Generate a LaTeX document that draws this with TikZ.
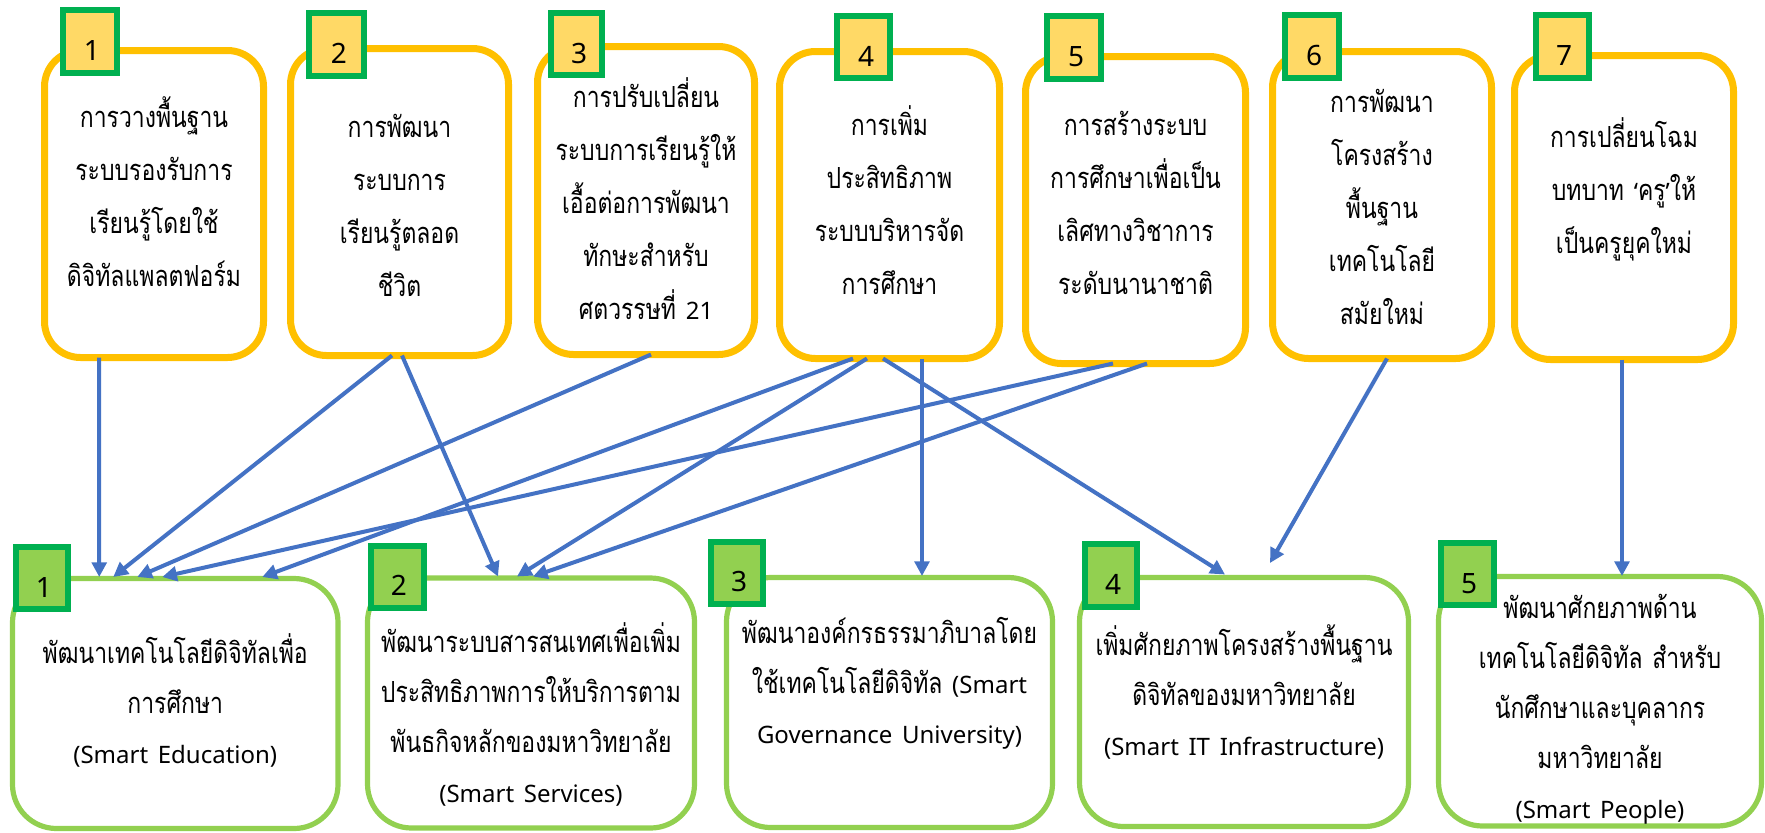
\documentclass[tikz,border=0pt]{standalone}
\usepackage{fontspec}
\setmainfont{Noto Sans}
\newfontfamily\thai[Script=Thai,FakeStretch=0.79]{Loma}
\newfontfamily\lat{Noto Sans}
\usetikzlibrary{arrows.meta,calc}
\definecolor{topc}{HTML}{FFC000}
\definecolor{botc}{HTML}{92D050}
\definecolor{badgeg}{HTML}{00B050}
\definecolor{badgey}{HTML}{FFD966}
\definecolor{arrc}{HTML}{4472C4}
\tikzset{
  topbox/.style={draw=topc, line width=5.25pt, rounded corners=27pt, fill=white, inner sep=0pt, outer sep=0pt},
  botbox/.style={draw=botc, line width=3.9pt, rounded corners=33pt, fill=white, inner sep=0pt, outer sep=0pt},
  tbadge/.style={draw=badgeg, line width=4.5pt, fill=badgey, inner sep=0pt, outer sep=0pt},
  bbadge/.style={draw=badgeg, line width=4.5pt, fill=botc, inner sep=0pt, outer sep=0pt},
  num/.style={anchor=base, inner sep=0pt, font=\lat\fontsize{21}{24}\selectfont},
  ttext/.style={anchor=base, inner sep=0pt, text width=330pt, align=center, font=\thai\fontsize{21.8}{39.75}\selectfont},
  btext/.style={anchor=base, inner sep=0pt, text width=330pt, align=center, font=\thai\fontsize{21.8}{37.5}\selectfont},
  arr/.style={draw=arrc, line width=3pt, -{Triangle[length=11pt,width=11pt]}},
}
\newcommand\la[1]{{\lat\fontsize{18}{20}\selectfont #1}}
\newcommand\mkbox[6]{\node[#1, minimum width={(#5-#3)*0.75pt}, minimum height={(#6-#4)*0.75pt}] (#2) at ({(#3+#5)/2},{(#4+#6)/2}) {};}
\begin{document}
\begin{tikzpicture}[x=0.75pt,y=-0.75pt]
\fill[white] (0,0) rectangle (1765,832);
\useasboundingbox (0,0) rectangle (1765,832);
% top boxes
\mkbox{topbox}{T1}{44.5}{50.5}{263.5}{357.5}
\mkbox{topbox}{T2}{290.5}{48.5}{508.5}{355.5}
\mkbox{topbox}{T3}{537.5}{46.5}{754.5}{354.5}
\mkbox{topbox}{T4}{779.5}{51.5}{999.5}{358.5}
\mkbox{topbox}{T5}{1025.5}{56.5}{1245.5}{363.5}
\mkbox{topbox}{T6}{1272.5}{51.5}{1491.5}{358.5}
\mkbox{topbox}{T7}{1514.5}{55.5}{1733.5}{359.5}
% bottom boxes
\mkbox{botbox}{B1}{12.5}{578.5}{338}{828.5}
\mkbox{botbox}{B2}{367.5}{578}{694.5}{828}
\mkbox{botbox}{B3}{726.5}{577.5}{1052.5}{827.5}
\mkbox{botbox}{B4}{1079.5}{577.5}{1408.5}{826.5}
\mkbox{botbox}{B5}{1438.5}{576.5}{1761.5}{826}
% top badges
\mkbox{tbadge}{Bd1}{63}{10}{117}{73}
\mkbox{tbadge}{Bd2}{309}{13}{364}{76}
\mkbox{tbadge}{Bd3}{551}{13}{602}{75}
\mkbox{tbadge}{Bd4}{837}{16}{890}{78}
\mkbox{tbadge}{Bd5}{1047}{16}{1101}{79}
\mkbox{tbadge}{Bd6}{1285}{15}{1339}{78}
\mkbox{tbadge}{Bd7}{1536}{15}{1589}{78}
% bottom badges
\mkbox{bbadge}{BB1}{16}{547}{68}{609}
\mkbox{bbadge}{BB2}{371}{546}{424}{608}
\mkbox{bbadge}{BB3}{711}{542}{763}{604}
\mkbox{bbadge}{BB4}{1085}{544}{1137}{607}
\mkbox{bbadge}{BB5}{1441}{543}{1494}{605}
% badge numbers
\node[num] (n1) at (92,60) {1};
\node[num] (n2) at (339,63) {2};
\node[num] (n3) at (579,63) {3};
\node[num] (n4) at (866,66) {4};
\node[num] (n5) at (1076,66) {5};
\node[num] (n6) at (1314,65) {6};
\node[num] (n7) at (1564,65) {7};
\node[num] (m1) at (44,597) {1};
\node[num] (m2) at (399,595) {2};
\node[num] (m3) at (739,591) {3};
\node[num] (m4) at (1113,594) {4};
\node[num] (m5) at (1469,593) {5};
% top texts
\node[ttext] (t1) at (154,127) {การวางพื้นฐาน\\ระบบรองรับการ\\เรียนรู้โดยใช้\\ดิจิทัลแพลตฟอร์ม};
\node[ttext] (t2) at (399.5,137) {การพัฒนา\\ระบบการ\\เรียนรู้ตลอด\\ชีวิต};
\node[ttext] (t3) at (646,107) {การปรับเปลี่ยน\\ระบบการเรียนรู้ให้\\เอื้อต่อการพัฒนา\\ทักษะสำหรับ\\ศตวรรษที่ \la{21}};
\node[ttext] (t4) at (889.5,135) {การเพิ่ม\\ประสิทธิภาพ\\ระบบบริหารจัด\\การศึกษา};
\node[ttext] (t5) at (1135.5,135) {การสร้างระบบ\\การศึกษาเพื่อเป็น\\เลิศทางวิชาการ\\ระดับนานาชาติ};
\node[ttext] (t6) at (1382,112) {การพัฒนา\\โครงสร้าง\\พื้นฐาน\\เทคโนโลยี\\สมัยใหม่};
\node[ttext] (t7) at (1624,147) {การเปลี่ยนโฉม\\บทบาท \la{‘}ครู\la{’}ให้\\เป็นครูยุคใหม่};
% bottom texts
\node[btext] (b1) at (175.25,663) {พัฒนาเทคโนโลยีดิจิทัลเพื่อ\\การศึกษา\\\la{(Smart Education)}};
\node[btext] (b2) at (531,652) {พัฒนาระบบสารสนเทศเพื่อเพิ่ม\\ประสิทธิภาพการให้บริการตาม\\พันธกิจหลักของมหาวิทยาลัย\\\la{(Smart Services)}};
\node[btext] (b3) at (889.5,643) {พัฒนาองค์กรธรรมาภิบาลโดย\\ใช้เทคโนโลยีดิจิทัล \la{(Smart}\\\la{Governance University)}};
\node[btext] (b4) at (1244,655) {เพิ่มศักยภาพโครงสร้างพื้นฐาน\\ดิจิทัลของมหาวิทยาลัย\\\la{(Smart IT Infrastructure)}};
\node[btext] (b5) at (1600,618) {พัฒนาศักยภาพด้าน\\เทคโนโลยีดิจิทัล สำหรับ\\นักศึกษาและบุคลากร\\มหาวิทยาลัย\\\la{(Smart People)}};
% arrows
\draw[arr] ($(T1.south)+(-55,0)$) -- ($(B1.north)+(-76,-1.5)$);
\draw[arr] ($(T2.south)+(-7.5,0)$) -- ($(B1.north)+(-62,-1.5)$);
\draw[arr] ($(T2.south)+(2.5,0)$) -- ($(B2.north)+(-33,-1.5)$);
\draw[arr] ($(T3.south)+(5,0)$) -- ($(B1.north)+(-38,-1.5)$);
\draw[arr] ($(T4.south)+(-36.5,0)$) -- ($(B1.north)+(87,-1.5)$);
\draw[arr] ($(T4.south)+(-22.5,0)$) -- ($(B2.north)+(-14,-1.5)$);
\draw[arr] ($(T4.south)+(-6.5,0)$) -- ($(B4.north)+(-19,-3)$);
\draw[arr] ($(T4.south)+(32.5,0)$) -- ($(B3.north)+(32.5,-1.5)$);
\draw[arr] ($(T5.south)+(-22.5,0)$) -- ($(B1.north)+(-13,-1.5)$);
\draw[arr] ($(T5.south)+(11.5,0)$) -- ($(B2.north)+(2,-1.5)$);
\draw[arr] ($(T6.south)+(5,0)$) -- ($(B4.north)+(26,-14.5)$);
\draw[arr] ($(T7.south)+(-2,0)$) -- ($(B5.north)+(22,-0.5)$);
\end{tikzpicture}
\end{document}
